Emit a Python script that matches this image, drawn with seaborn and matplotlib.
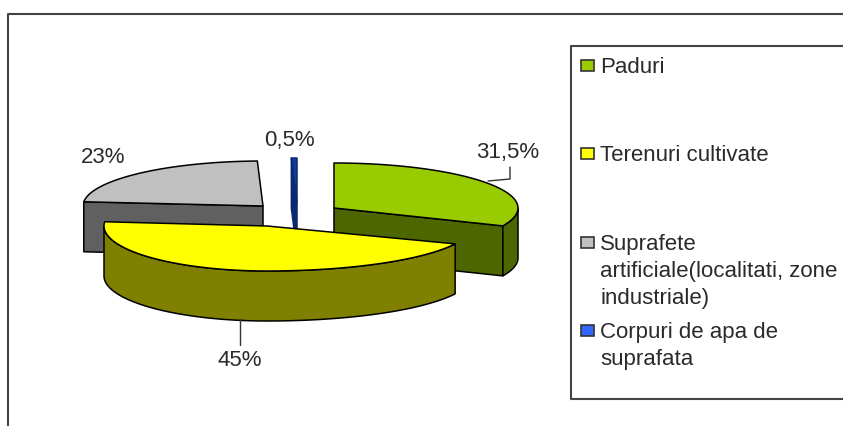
import numpy as np
import matplotlib
matplotlib.use('Agg')
import matplotlib.pyplot as plt
from matplotlib.patches import Rectangle
import seaborn as sns

# Date
categories = ['Paduri', 'Terenuri cultivate',
              'Suprafete\nartificiale(localitati, zone\nindustriale)',
              'Corpuri de apa de\nsuprafata']
values = [31.5, 45, 23, 0.5]
value_labels = ['31,5%', '45%', '23%', '0,5%']

top_colors = ['#99cc00', '#ffff00', '#c0c0c0', '#123c9c']
side_colors = ['#4d6600', '#808000', '#606060', '#0a2a70']
edge_colors = ['black', 'black', 'black', '#0a2a70']
legend_colors = ['#99cc00', '#ffff00', '#c0c0c0', '#3366ff']

# Layout in pixels: apex x, apex y, left radius, right radius
apex = [(334, 209, 184, 184), (267, 227, 163, 205), (263, 207, 180, 180), (297, 204, 180, 180)]
RY = 45
DEPTH = 50
draw_order = [2, 3, 0, 1]

sns.set_theme(style='white')
plt.rcParams['font.family'] = ['Liberation Sans', 'DejaVu Sans']
FS = 16
TXT = '#2a2a2a'

fig = plt.figure(figsize=(8.43, 4.27), dpi=100)
ax = fig.add_axes([0, 0, 1, 1])
ax.set_xlim(0, 843)
ax.set_ylim(427, 0)
ax.axis('off')


def arc(cx, cy, rl, rr, a0, a1, n=80):
    t = np.radians(np.linspace(a0, a1, n))
    s = np.sin(t)
    return cx + s * np.where(s >= 0, rr, rl), cy - np.cos(t) * RY


# unghiuri din valori, in sens orar de la 12
edges = np.concatenate([[0], np.cumsum(values)]) / np.sum(values) * 360

for i in draw_order:
    cx, cy, rl, rr = apex[i]
    a0, a1 = edges[i], edges[i + 1]
    # fete taiate vizibile
    for a, show in ((a0, 180 < a0 < 360), (a1, 90 < a1 < 270)):
        if show:
            x, y = arc(cx, cy, rl, rr, a, a, 1)
            ax.fill([cx, x[0], x[0], cx], [cy, y[0], y[0] + DEPTH, cy + DEPTH],
                    fc=side_colors[i], ec=edge_colors[i], lw=1.1, joinstyle='round')
    # peretele exterior
    lo, hi = max(a0, 90), min(a1, 270)
    if lo < hi:
        x, y = arc(cx, cy, rl, rr, lo, hi)
        ax.fill(np.r_[x, x[::-1]], np.r_[y, y[::-1] + DEPTH],
                fc=side_colors[i], ec=edge_colors[i], lw=1.1, joinstyle='round')
    # fata de sus
    x, y = arc(cx, cy, rl, rr, a0, a1)
    ax.fill(np.r_[cx, x], np.r_[cy, y], fc=top_colors[i], ec=edge_colors[i], lw=1.1, joinstyle='round')

# linii de legatura
ax.plot([488, 510, 510], [182, 180, 168], color='#333333', lw=1)
ax.plot([240, 240], [320, 346], color='#333333', lw=1)

label_pos = [(508, 153), (240, 361), (103, 158), (289, 141)]
for lab, (x, y) in zip(value_labels, label_pos):
    ax.text(x, y, lab, ha='center', va='center', fontsize=FS, color=TXT)

# Chenar exterior
ax.plot([8, 8, 843], [427, 15, 15], color='#444444', lw=1.5, clip_on=False)

# Legenda
ax.plot([843, 571, 571, 843], [46.5, 46.5, 399.5, 399.5], color='#444444', lw=1.5)
legend_y = [66, 154, 243, 331]
for name, col, y in zip(categories, legend_colors, legend_y):
    ax.add_patch(Rectangle((580.5, y - 5.5), 13, 11, fc=col, ec='#333333', lw=1.2))
    ax.text(600, y - 9, name, ha='left', va='top', fontsize=FS, color=TXT, linespacing=1.36)

fig.savefig('out.png', dpi=100)
